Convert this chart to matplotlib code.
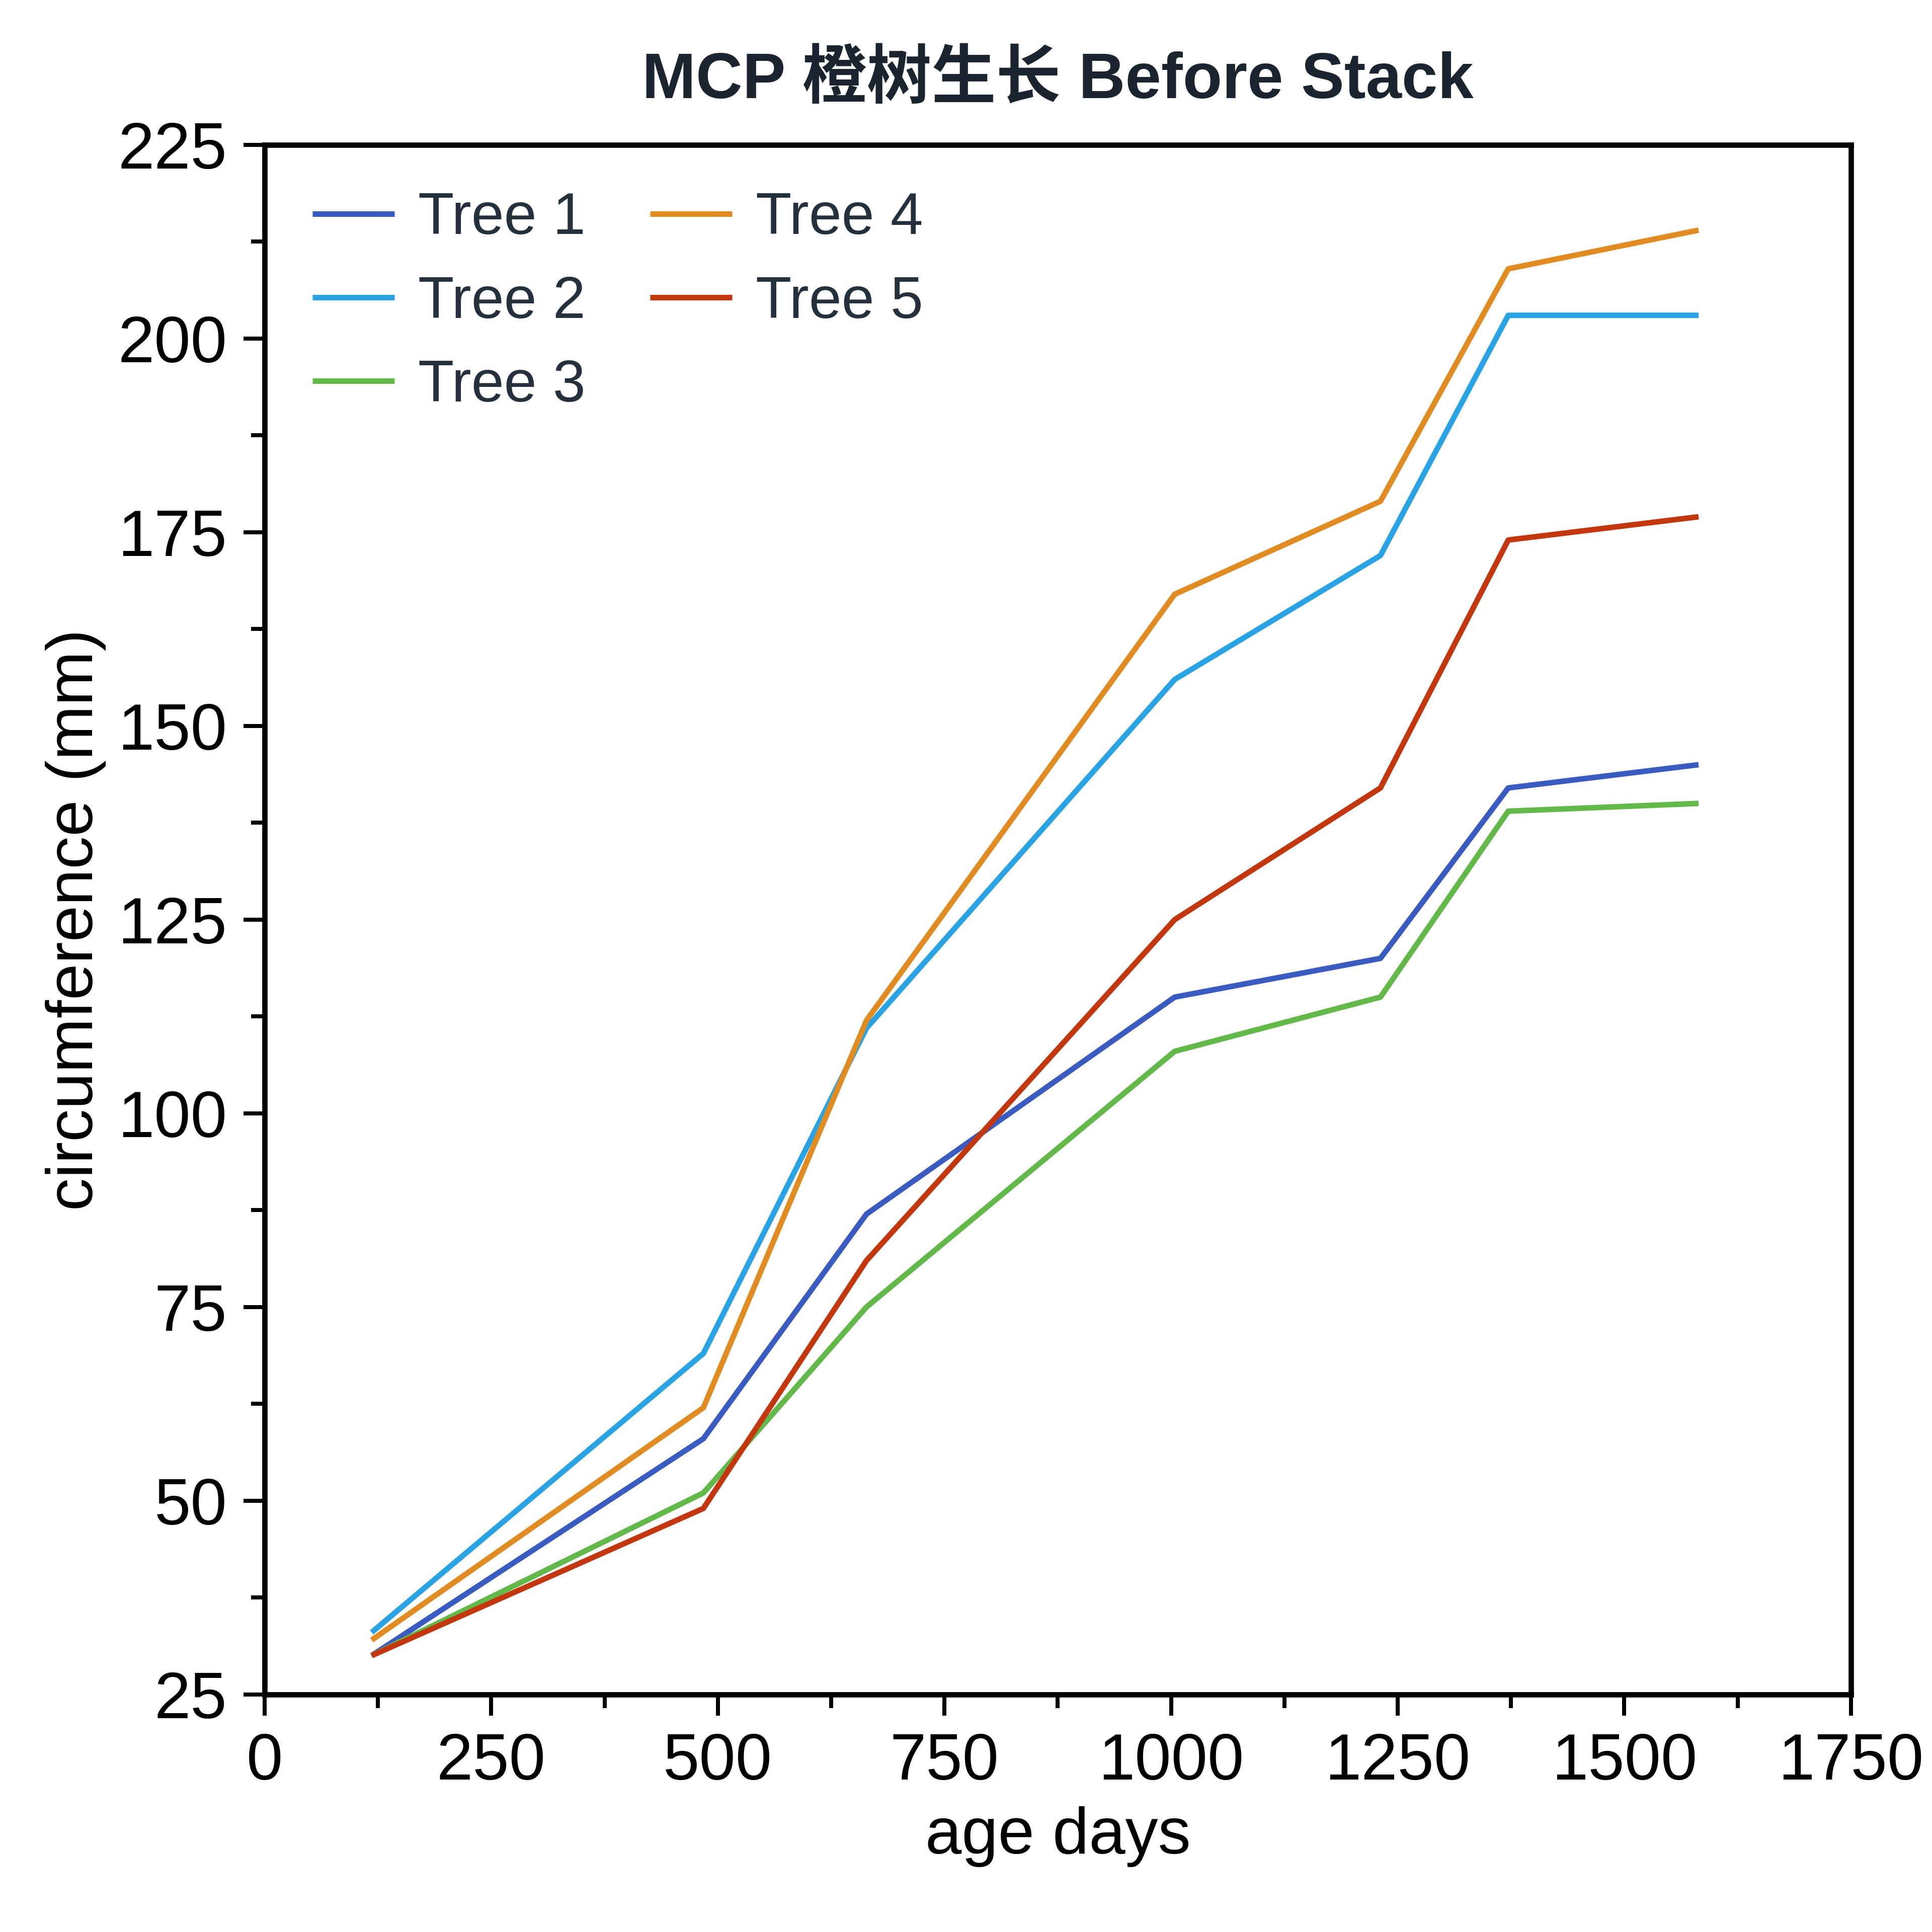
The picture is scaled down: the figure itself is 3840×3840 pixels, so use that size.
import matplotlib
matplotlib.use("Agg")
import matplotlib.pyplot as plt
from matplotlib.ticker import MultipleLocator, AutoMinorLocator

# Orange tree growth data
age_days = [118, 484, 664, 1004, 1231, 1372, 1582]
tree_1 = [30, 58, 87, 115, 120, 142, 145]
tree_2 = [33, 69, 111, 156, 172, 203, 203]
tree_3 = [30, 51, 75, 108, 115, 139, 140]
tree_4 = [32, 62, 112, 167, 179, 209, 214]
tree_5 = [30, 49, 81, 125, 142, 174, 177]

series = [tree_1, tree_2, tree_3, tree_4, tree_5]
names = ["Tree 1", "Tree 2", "Tree 3", "Tree 4", "Tree 5"]
colors = ["#3a5bbf", "#29a3e3", "#62b94a", "#e08c22", "#c3370f"]

plt.rcParams["font.family"] = ["Liberation Sans", "Noto Sans CJK SC", "DejaVu Sans"]

fig = plt.figure(figsize=(16, 16), dpi=240)
ax = fig.add_axes([0.137, 0.123, 0.821, 0.802])

for vals, name, col in zip(series, names, colors):
    ax.plot(age_days, vals, color=col, lw=3.3, label=name, solid_capstyle="butt")

ax.set_xlim(0, 1750)
ax.set_ylim(25, 225)
ax.xaxis.set_major_locator(MultipleLocator(250))
ax.yaxis.set_major_locator(MultipleLocator(25))
ax.xaxis.set_minor_locator(AutoMinorLocator(2))
ax.yaxis.set_minor_locator(AutoMinorLocator(2))

for sp in ax.spines.values():
    sp.set_linewidth(3.2)
ax.tick_params(which="major", direction="out", length=12.5, width=2.4,
               labelsize=39, pad=10, top=False, right=False)
ax.tick_params(which="minor", direction="out", length=8, width=2.4,
               top=False, right=False)

ax.set_xlabel("age days", fontsize=39, labelpad=8)
ax.set_ylabel("circumference (mm)", fontsize=39, labelpad=7)
ax.set_title("MCP 橙树生长 Before Stack", fontsize=38.5, fontweight="bold",
             color="#1b2530", pad=28)

leg = ax.legend(loc="upper left", bbox_to_anchor=(0.03, 0.97), ncol=2,
                frameon=False, fontsize=35, handlelength=1.4, handletextpad=0.4,
                columnspacing=1.1, labelspacing=0.49, borderpad=0, borderaxespad=0)
for t in leg.get_texts():
    t.set_color("#24313d")

fig.savefig("out.png", dpi=240)
